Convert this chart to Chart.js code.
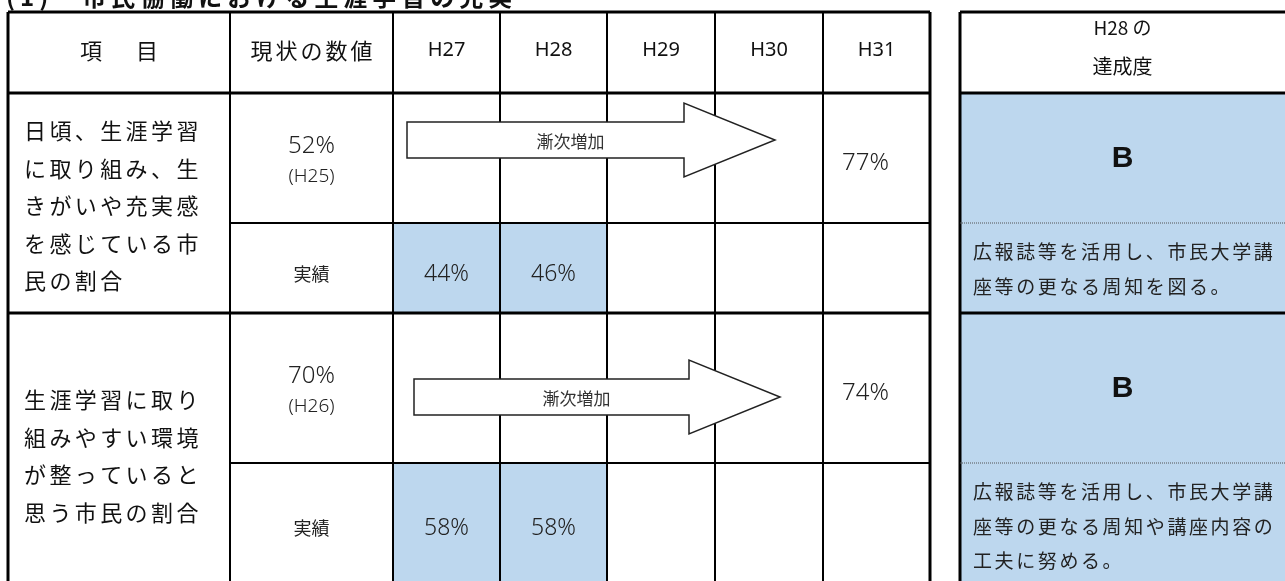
<!DOCTYPE html>
<html lang="ja">
<head>
<meta charset="utf-8">
<script src="https://cdn.jsdelivr.net/npm/chart.js@4.4.1/dist/chart.umd.min.js"></script>
<style>
html, body { margin: 0; padding: 0; background: #fff; overflow: hidden; }
</style>
</head>
<body>
<canvas id="table" width="1285" height="581"></canvas>
<script>
// ---- data ----
const title = '(1)　市民協働における生涯学習の充実';
const headers = ['項　目', '現状の数値', 'H27', 'H28', 'H29', 'H30', 'H31'];
const gradeHeader = ['H28 の', '達成度'];
const itemNames = [
  ['日頃、生涯学習', 'に取り組み、生', 'きがいや充実感', 'を感じている市', '民の割合'],
  ['生涯学習に取り', '組みやすい環境', 'が整っていると', '思う市民の割合']
];
const baseValues = [52, 70];
const baseYears = ['(H25)', '(H26)'];
const targetValues = [77, 74];
const trendLabel = '漸次増加';
const actualLabel = '実績';
const actualItem1 = [44, 46, null, null, null]; // H27..H31
const actualItem2 = [58, 58, null, null, null];
const grades = ['B', 'B'];
const comments = [
  ['広報誌等を活用し、市民大学講', '座等の更なる周知を図る。'],
  ['広報誌等を活用し、市民大学講', '座等の更なる周知や講座内容の', '工夫に努める。']
];

// ---- layout (scale units) ----
const colEdges = [8, 230, 393, 500, 607, 715, 823, 930];
const rowEdges = [12, 93, 223, 313, 463, 581];
const gradeEdges = [960, 1292];
const arrowCenters = [140, 397];
const itemTextShift = [3, 9];
const blue = '#bdd7ee';
const jp = '"Noto Sans CJK JP", "Noto Sans", sans-serif';
const num = '"Noto Sans", "Liberation Sans", sans-serif';

const tablePlugin = {
  id: 'tableGrid',
  afterDraw(chart) {
    const { ctx, scales: { x, y } } = chart;
    const X = v => x.getPixelForValue(v), Y = v => y.getPixelForValue(v);
    const actuals = [actualItem1, actualItem2];

    const text = (s, px, py, font, color, align, spacing) => {
      ctx.font = font; ctx.fillStyle = color || '#111';
      ctx.textAlign = align || 'center'; ctx.textBaseline = 'middle';
      ctx.letterSpacing = (spacing || 0) + 'px';
      let dx = (align === 'left' || !spacing) ? 0 : spacing / 2;
      ctx.fillText(s, X(px) + dx, Y(py));
      ctx.letterSpacing = '0px';
    };
    const line = (x0, y0, x1, y1, w, dash) => {
      ctx.beginPath(); ctx.setLineDash(dash || []);
      ctx.lineWidth = w; ctx.strokeStyle = dash ? '#555' : '#000';
      ctx.moveTo(X(x0), Y(y0)); ctx.lineTo(X(x1), Y(y1)); ctx.stroke();
      ctx.setLineDash([]);
    };

    ctx.save();
    // title (mostly cut off at the top)
    ctx.font = 'bold 24px ' + jp; ctx.fillStyle = '#111';
    ctx.textAlign = 'left'; ctx.textBaseline = 'bottom'; ctx.letterSpacing = '5px';
    ctx.fillText(title, X(6), Y(9));
    ctx.letterSpacing = '0px';

    // blue fills: actual results H27/H28 and the grade table body
    actuals.forEach((vals, i) => {
      vals.forEach((v, j) => {
        if (v === null) return;
        ctx.fillStyle = blue;
        ctx.fillRect(X(colEdges[2 + j]), Y(rowEdges[2 + i * 2]), X(colEdges[3 + j]) - X(colEdges[2 + j]), Y(rowEdges[3 + i * 2]) - Y(rowEdges[2 + i * 2]));
      });
    });
    ctx.fillStyle = blue;
    ctx.fillRect(X(gradeEdges[0]), Y(rowEdges[1]), X(gradeEdges[1]) - X(gradeEdges[0]), Y(rowEdges[5]) - Y(rowEdges[1]));

    // main grid
    colEdges.forEach((c, i) => line(c, rowEdges[0], c, rowEdges[5], (i === 0 || i === colEdges.length - 1) ? 3 : 2));
    [0, 1, 3].forEach(r => line(colEdges[0], rowEdges[r], colEdges[7], rowEdges[r], 3));
    [2, 4].forEach(r => line(colEdges[1], rowEdges[r], colEdges[7], rowEdges[r], 2));
    // grade grid
    line(gradeEdges[0], rowEdges[0], gradeEdges[0], rowEdges[5], 3);
    [0, 1, 3].forEach(r => line(gradeEdges[0], rowEdges[r], gradeEdges[1], rowEdges[r], 3));
    [2, 4].forEach(r => line(gradeEdges[0], rowEdges[r], gradeEdges[1], rowEdges[r], 1, [1, 1]));

    // trend arrows across H27..H30
    arrowCenters.forEach((yc, i) => {
      const x0 = colEdges[2] + 14 + i * 7, xh = colEdges[4] + 77 + i * 5, xt = colEdges[5] + 60 + i * 5;
      ctx.beginPath();
      ctx.moveTo(X(x0), Y(yc - 18)); ctx.lineTo(X(xh), Y(yc - 18)); ctx.lineTo(X(xh), Y(yc - 37));
      ctx.lineTo(X(xt), Y(yc)); ctx.lineTo(X(xh), Y(yc + 37)); ctx.lineTo(X(xh), Y(yc + 18));
      ctx.lineTo(X(x0), Y(yc + 18)); ctx.closePath();
      ctx.fillStyle = '#fff'; ctx.fill();
      ctx.lineWidth = 1.5; ctx.strokeStyle = '#222'; ctx.stroke();
      text(trendLabel, (x0 + xh) / 2 + 25, yc + 2, '17px ' + jp, '#333');
    });

    // headers
    headers.forEach((h, i) => {
      const cx = (colEdges[i] + colEdges[i + 1]) / 2;
      if (i < 2) text(h, cx, 51, '22px ' + jp, '#111', 'center', i === 0 ? 6 : 3);
      else text(h, cx, 50, '20px ' + num, '#111');
    });
    const gx = (gradeEdges[0] + 1285) / 2;
    text(gradeHeader[0], gx, 28, '19px ' + jp, '#111');
    text(gradeHeader[1], gx, 66, '20px ' + jp, '#111');

    // item rows
    itemNames.forEach((lines, i) => {
      const top = rowEdges[1 + i * 2], bot = rowEdges[3 + i * 2], mid = rowEdges[2 + i * 2];
      const cy = (top + bot) / 2 + itemTextShift[i], gap = 37.5;
      lines.forEach((s, k) => text(s, colEdges[0] + 16, cy + (k - (lines.length - 1) / 2) * gap, '22px ' + jp, '#111', 'left', 3.4));
      const c2 = (colEdges[1] + colEdges[2]) / 2;
      const tmid = (top + mid) / 2 + 2;
      text(baseValues[i] + '%', c2, tmid - 14, '300 24px ' + num, '#222');
      text(baseYears[i], c2, tmid + 17, '300 19px ' + num, '#222');
      text(targetValues[i] + '%', (colEdges[6] + colEdges[7]) / 2 - 11, tmid + 3, '300 24px ' + num, '#222');
      const amid = (mid + bot) / 2 + 6;
      text(actualLabel, c2, amid, '18px ' + jp, '#222');
      actuals[i].forEach((v, j) => {
        if (v !== null) text(v + '%', (colEdges[2 + j] + colEdges[3 + j]) / 2, amid, '300 23px ' + num, '#222');
      });
      // grade table
      text(grades[i], gx, (top + mid) / 2 + 1, 'bold 30px "Liberation Sans", sans-serif', '#111');
      comments[i].forEach((s, k) => text(s, 973, mid + 29 + k * 34.5, '19px ' + jp, '#222', 'left', 2.6));
    });
    ctx.restore();
  }
};

new Chart(document.getElementById('table'), {
  type: 'scatter',
  data: { datasets: [] },
  options: {
    responsive: false,
    animation: false,
    devicePixelRatio: 1,
    layout: { padding: 0 },
    scales: {
      x: { type: 'linear', min: 0, max: 1285, display: false },
      y: { type: 'linear', min: 0, max: 581, reverse: true, display: false }
    },
    plugins: { legend: { display: false }, tooltip: { enabled: false } }
  },
  plugins: [tablePlugin]
});
</script>
</body>
</html>
